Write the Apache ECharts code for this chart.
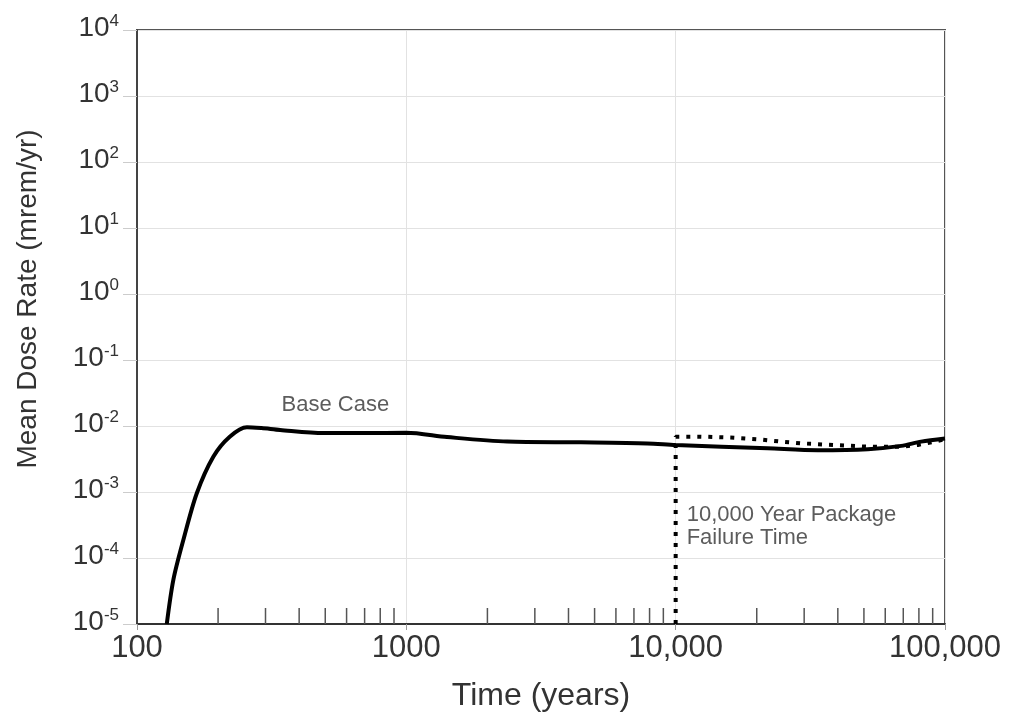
<!DOCTYPE html>
<html>
<head>
<meta charset="utf-8">
<script src="https://cdn.jsdelivr.net/npm/echarts@6/dist/echarts.min.js"></script>
<style>
  html, body { margin: 0; padding: 0; background: #fff; }
  #chart { width: 1018px; height: 721px; }
</style>
</head>
<body>
<div id="chart"></div>
<script>
// base case curve (years, mrem/yr)
const baseTime = [129, 136.5, 148.6, 166.6, 192, 221, 256, 290, 340, 493, 700, 1000, 1416, 2370, 4440, 7850, 10000, 21900, 33700, 51700, 68800, 81500, 100000];
const baseDose = [1e-5, 4.7e-5, 1.87e-4, 9.5e-4, 3.43e-3, 6.9e-3, 9.6e-3, 9.3e-3, 8.7e-3, 7.8e-3, 7.8e-3, 7.9e-3, 6.8e-3, 5.8e-3, 5.65e-3, 5.45e-3, 5.15e-3, 4.6e-3, 4.3e-3, 4.45e-3, 5.0e-3, 5.8e-3, 6.45e-3];

// 10,000 year package failure case (dotted)
const failTime = [10000, 10000, 12400, 16500, 20100, 24600, 29100, 38800, 51700, 68800, 79300, 91300, 100000];
const failDose = [1e-5, 6.9e-3, 6.9e-3, 6.65e-3, 6.3e-3, 5.8e-3, 5.47e-3, 5.15e-3, 4.86e-3, 4.86e-3, 5.15e-3, 5.8e-3, 6.3e-3];

// minor tick positions on the time axis
const minorTicks = [200, 300, 400, 500, 600, 700, 800, 900, 2000, 3000, 4000, 5000, 6000, 7000, 8000, 9000, 20000, 30000, 40000, 50000, 60000, 70000, 80000, 90000];

const xTickValues = [100, 1000, 10000, 100000];
const xTickLabels = ['100', '1000', '10,000', '100,000'];

const zip = (a, b) => a.map((v, i) => [v, b[i]]);

const chart = echarts.init(document.getElementById('chart'));

const option = {
  animation: false,
  backgroundColor: '#fff',
  textStyle: { fontFamily: 'Liberation Sans, Arial, sans-serif' },
  grid: {
    left: 137, right: 73, top: 30, bottom: 97,
    show: true,
    borderColor: '#555',
    borderWidth: 2
  },
  xAxis: {
    type: 'log',
    logBase: 10,
    min: 100,
    max: 100000,
    name: 'Time (years)',
    nameLocation: 'middle',
    nameGap: 56,
    nameTextStyle: { fontSize: 32, color: '#333' },
    axisLine: { lineStyle: { color: '#333', width: 2 } },
    axisTick: { show: true, length: 6, lineStyle: { color: '#999' } },
    axisLabel: {
      fontSize: 31,
      color: '#333',
      margin: 9,
      formatter: function (v) {
        const i = xTickValues.indexOf(Math.round(v));
        return i >= 0 ? xTickLabels[i] : '';
      }
    },
    splitLine: { show: true, lineStyle: { color: '#e2e2e2', width: 1 } }
  },
  yAxis: {
    type: 'log',
    logBase: 10,
    min: 1e-5,
    max: 1e4,
    name: 'Mean Dose Rate (mrem/yr)',
    nameLocation: 'middle',
    nameGap: 95,
    nameTextStyle: { fontSize: 28, color: '#333', padding: [0, 0, 0, 56] },
    axisLine: { lineStyle: { color: '#444', width: 2 } },
    axisTick: { show: true, length: 14, lineStyle: { color: '#ccc' } },
    axisLabel: {
      margin: 18,
      color: '#333',
      formatter: function (v) {
        const e = Math.round(Math.log10(v));
        return '{b|10}{s|' + e + '}';
      },
      rich: {
        b: { fontSize: 28, color: '#333', padding: [0, 0, 4, 0] },
        s: { fontSize: 17, color: '#333', padding: [0, 0, 17, 0] }
      }
    },
    splitLine: { show: true, lineStyle: { color: '#e2e2e2', width: 1 } }
  },
  series: [
    {
      name: 'minor ticks',
      type: 'custom',
      silent: true,
      data: minorTicks.map(t => [t, 1e-5]),
      encode: { x: 0, y: 1 },
      renderItem: function (params, api) {
        const p = api.coord([api.value(0), api.value(1)]);
        return {
          type: 'line',
          shape: { x1: p[0], y1: p[1], x2: p[0], y2: p[1] - 16 },
          style: { stroke: '#555', lineWidth: 1.5 }
        };
      },
      z: 1
    },
    {
      name: 'Base Case',
      type: 'line',
      data: zip(baseTime, baseDose),
      smooth: 0.3,
      showSymbol: false,
      lineStyle: { color: '#000', width: 4 },
      z: 3
    },
    {
      name: '10,000 Year Package Failure Time',
      type: 'line',
      data: zip(failTime, failDose),
      smooth: false,
      showSymbol: false,
      lineStyle: { color: '#000', width: 4, type: [4, 7], cap: 'butt' },
      z: 4
    },
    {
      name: 'labels',
      type: 'scatter',
      silent: true,
      symbolSize: 0,
      data: [
        { value: [545, 0.0209], label: { show: true, position: 'inside', formatter: 'Base Case', fontSize: 22, color: '#333' } },
        { value: [10000, 3.0e-4], label: { show: true, position: 'right', distance: 11, formatter: '10,000 Year Package\nFailure Time', fontSize: 22, lineHeight: 23, color: '#333', align: 'left' } }
      ],
      z: 5
    }
  ]
};

chart.setOption(option);
window.addEventListener('resize', function () {
  chart.resize();
});
</script>
</body>
</html>
